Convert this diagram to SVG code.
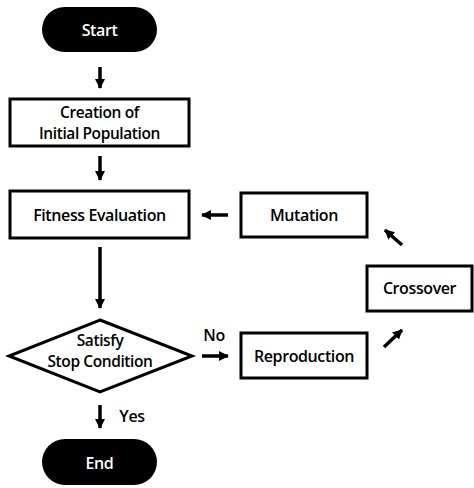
<svg xmlns="http://www.w3.org/2000/svg" width="474" height="488" viewBox="0 0 474 488">
<style>
.box{fill:#fff;stroke:#000;stroke-width:3}
.pill{fill:#000}
.t{font-family:"Open Sans","Noto Sans",sans-serif;font-size:16px;font-weight:600;letter-spacing:-0.4px;fill:#000;text-anchor:middle;dominant-baseline:central}
.s{font-size:15.5px}
.w{fill:#fff}
.c{stroke:#000;stroke-width:3.5;fill:none}
</style>
<defs>
<marker id="ah" viewBox="0 0 10 10" refX="9" refY="5" markerWidth="10" markerHeight="10" markerUnits="userSpaceOnUse" orient="auto">
<path d="M0,0 L10,5 L0,10 Z" fill="#000"/>
</marker>
</defs>
<rect width="474" height="488" fill="#fff"/>
<g id="start"><rect class="pill" x="42" y="7" width="115" height="45" rx="22.5"/><text class="t w" x="99.5" y="30">Start</text></g>
<g id="creation"><rect class="box" x="10" y="99" width="179" height="47"/><text class="t s" x="99.5" y="112">Creation of</text><text class="t s" x="99.5" y="133">Initial Population</text></g>
<g id="fitness"><rect class="box" x="10" y="191" width="179" height="47"/><text class="t" x="99.5" y="215">Fitness Evaluation</text></g>
<g id="stop"><polygon class="box" points="100,320 192,356 100,392 9,356"/><text class="t s" x="100" y="340">Satisfy</text><text class="t s" x="100" y="361">Stop Condition</text></g>
<g id="end"><rect class="pill" x="42" y="439" width="115" height="46" rx="23"/><text class="t w" x="99.5" y="463">End</text></g>
<g id="mutation"><rect class="box" x="241" y="193" width="126" height="44"/><text class="t" x="304" y="215">Mutation</text></g>
<g id="crossover"><rect class="box" x="367" y="266" width="105" height="45"/><text class="t" x="419.5" y="288">Crossover</text></g>
<g id="reproduction"><rect class="box" x="241" y="333" width="126" height="45"/><text class="t" x="304" y="356">Reproduction</text></g>
<g id="connectors">
<line class="c" x1="100" y1="67" x2="100" y2="88" marker-end="url(#ah)"/>
<line class="c" x1="100" y1="156" x2="100" y2="180" marker-end="url(#ah)"/>
<line class="c" x1="100" y1="247" x2="100" y2="308" marker-end="url(#ah)"/>
<line class="c" x1="100" y1="405" x2="100" y2="428" marker-end="url(#ah)"/>
<line class="c" x1="228" y1="215" x2="202" y2="215" marker-end="url(#ah)"/>
<line class="c" x1="202" y1="356" x2="228" y2="356" marker-end="url(#ah)"/>
<line class="c" x1="402" y1="245" x2="385" y2="230" marker-end="url(#ah)"/>
<line class="c" x1="384" y1="347" x2="402" y2="330" marker-end="url(#ah)"/>
<text class="t" x="214" y="335">No</text>
<text class="t" x="132" y="416">Yes</text>
</g>
</svg>
